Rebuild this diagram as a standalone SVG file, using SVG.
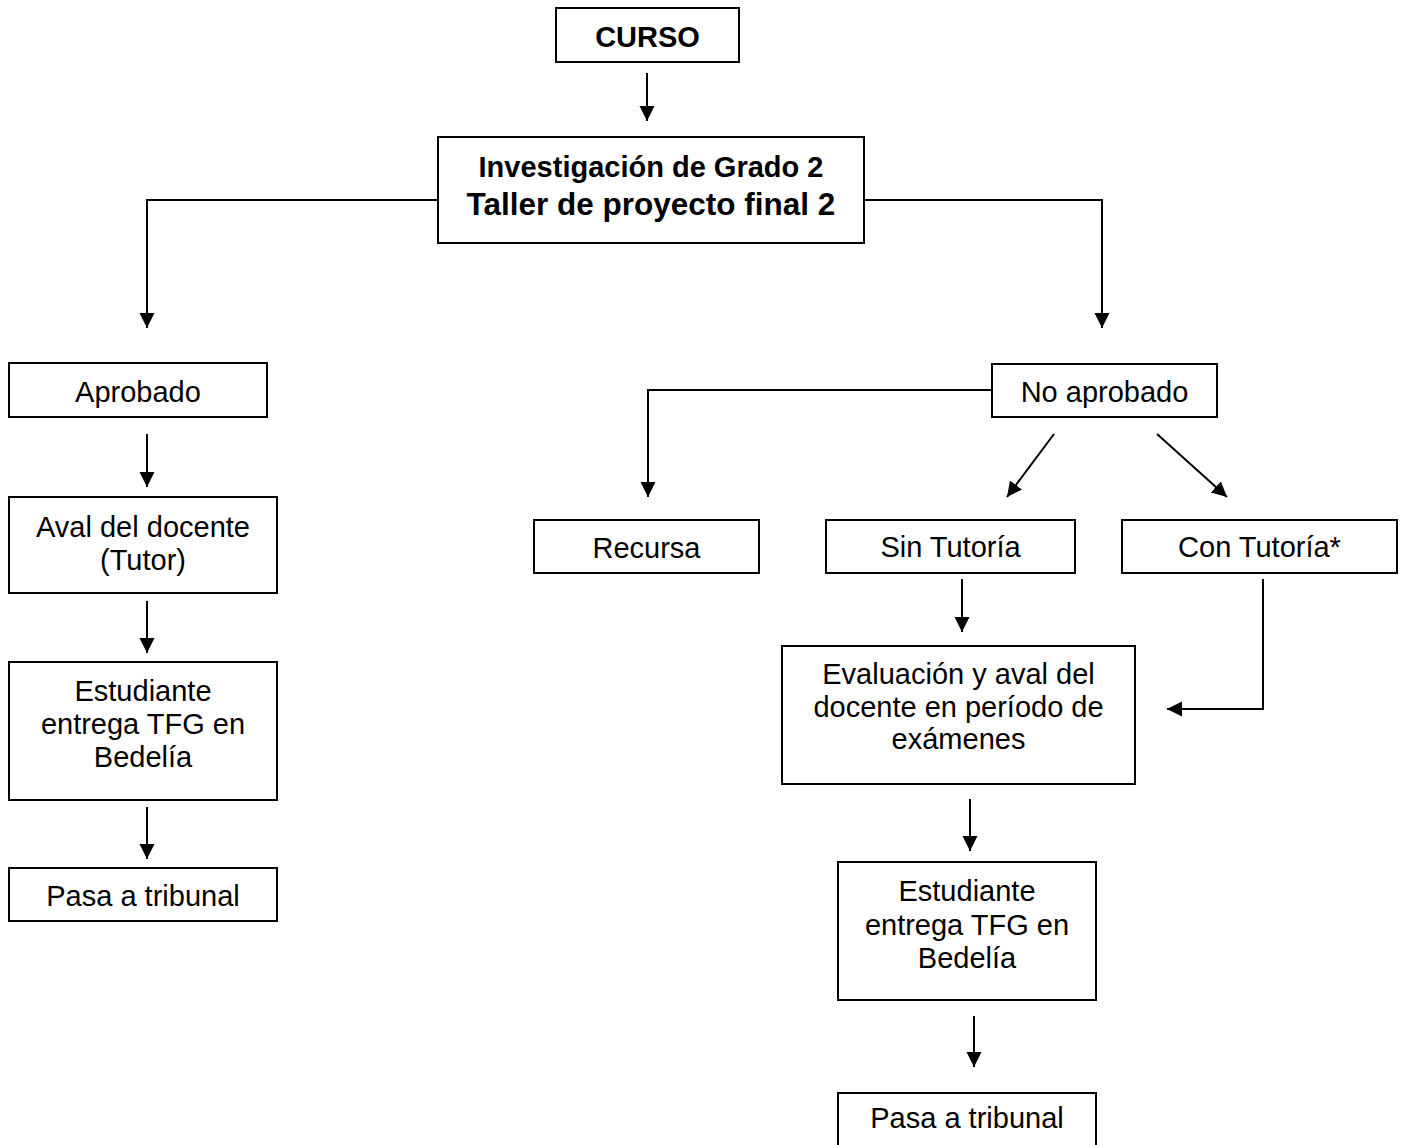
<svg xmlns="http://www.w3.org/2000/svg" width="1407" height="1145" viewBox="0 0 1407 1145">
<style>
rect.box{fill:#fff;stroke:#000;stroke-width:2}
text{font-family:"Liberation Sans",Arial,sans-serif;font-size:29px;fill:#000;text-anchor:middle}
text.b{font-weight:bold}
.conn path,.conn line{fill:none;stroke:#000;stroke-width:2}
</style>
<defs>
<marker id="ah" markerUnits="userSpaceOnUse" markerWidth="16" markerHeight="16" refX="15" refY="7.5" orient="auto">
<path d="M0,0 L15,7.5 L0,15 z" fill="#000"/>
</marker>
</defs>
<rect width="1407" height="1145" fill="#fff"/>
<g class="conn">
<line x1="647" y1="73" x2="647" y2="121" marker-end="url(#ah)"/>
<path d="M438,200 H147 V328" marker-end="url(#ah)"/>
<path d="M864,200 H1102 V328" marker-end="url(#ah)"/>
<line x1="147" y1="434" x2="147" y2="487" marker-end="url(#ah)"/>
<line x1="147" y1="601" x2="147" y2="653" marker-end="url(#ah)"/>
<line x1="147" y1="807" x2="147" y2="859" marker-end="url(#ah)"/>
<path d="M992,390 H648 V497" marker-end="url(#ah)"/>
<line x1="1054" y1="434" x2="1007" y2="497" marker-end="url(#ah)"/>
<line x1="1157" y1="434" x2="1227" y2="497" marker-end="url(#ah)"/>
<line x1="962" y1="579" x2="962" y2="632" marker-end="url(#ah)"/>
<path d="M1263,579 V709 H1167" marker-end="url(#ah)"/>
<line x1="970" y1="799" x2="970" y2="851" marker-end="url(#ah)"/>
<line x1="974" y1="1016" x2="974" y2="1067" marker-end="url(#ah)"/>
</g>
<g id="curso"><rect class="box" x="556" y="8" width="183" height="54"/><text class="b" x="647.5" y="47">CURSO</text></g>
<g id="investigacion"><rect class="box" x="438" y="137" width="426" height="106"/><text class="b" x="651" y="177">Investigación de Grado 2</text><text class="b" x="651" y="215" style="font-size:31.5px">Taller de proyecto final 2</text></g>
<g id="aprobado"><rect class="box" x="9" y="363" width="258" height="54"/><text x="138" y="402">Aprobado</text></g>
<g id="aval"><rect class="box" x="9" y="497" width="268" height="96"/><text x="143" y="537">Aval del docente</text><text x="143" y="570">(Tutor)</text></g>
<g id="estudiante1"><rect class="box" x="9" y="662" width="268" height="138"/><text x="143" y="701">Estudiante</text><text x="143" y="734">entrega TFG en</text><text x="143" y="767">Bedelía</text></g>
<g id="pasa1"><rect class="box" x="9" y="868" width="268" height="53"/><text x="143" y="906">Pasa a tribunal</text></g>
<g id="noaprobado"><rect class="box" x="992" y="364" width="225" height="53"/><text x="1104.5" y="402">No aprobado</text></g>
<g id="recursa"><rect class="box" x="534" y="520" width="225" height="53"/><text x="646.5" y="558">Recursa</text></g>
<g id="sintutoria"><rect class="box" x="826" y="520" width="249" height="53"/><text x="950.5" y="557">Sin Tutoría</text></g>
<g id="contutoria"><rect class="box" x="1122" y="520" width="275" height="53"/><text x="1259.5" y="557">Con Tutoría*</text></g>
<g id="evaluacion"><rect class="box" x="782" y="646" width="353" height="138"/><text x="958.5" y="684">Evaluación y aval del</text><text x="958.5" y="717">docente en período de</text><text x="958.5" y="749">exámenes</text></g>
<g id="estudiante2"><rect class="box" x="838" y="862" width="258" height="138"/><text x="967" y="901">Estudiante</text><text x="967" y="935">entrega TFG en</text><text x="967" y="968">Bedelía</text></g>
<g id="pasa2"><rect class="box" x="838" y="1093" width="258" height="55"/><text x="967" y="1128">Pasa a tribunal</text></g>
</svg>
